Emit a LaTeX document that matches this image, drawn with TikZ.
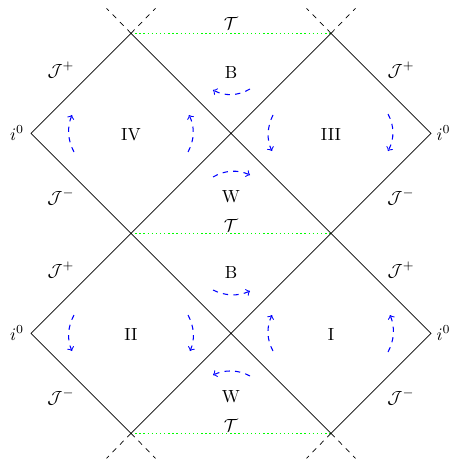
\documentclass[tikz,border=0pt]{standalone}
\usepackage{amsmath}
\begin{document}
\begin{tikzpicture}[x=2cm,y=-2cm,line width=0.4pt,
  horizon/.style={draw=black},
  extline/.style={dashed},
  infline/.style={color=green,line width=0.8pt,dash pattern=on 0.8pt off 1.55pt},
  flow/.style={draw=blue,line width=0.6pt,dashed,->},
  lbl/.style={inner sep=0pt}]
\useasboundingbox (0,0) rectangle (4.51,4.62);
% vertices
\coordinate (L1) at (0.31,1.333);
\coordinate (L2) at (0.31,3.333);
\coordinate (R1) at (4.31,1.333);
\coordinate (R2) at (4.31,3.333);
\coordinate (T1) at (1.31,0.333);
\coordinate (T2) at (3.31,0.333);
\coordinate (M1) at (1.31,2.333);
\coordinate (M2) at (3.31,2.333);
\coordinate (B1) at (1.31,4.333);
\coordinate (B2) at (3.31,4.333);
\coordinate (C1) at (2.31,1.333);
\coordinate (C2) at (2.31,3.333);
% singularities (dotted green)
\draw[infline] (T1) -- (T2);
\draw[infline] (M1) -- (M2);
\draw[infline] (B1) -- (B2);
% diamonds
\draw[horizon] (L1)--(T1)--(C1)--(M1)--cycle;
\draw[horizon] (C1)--(T2)--(R1)--(M2)--cycle;
\draw[horizon] (L2)--(M1)--(C2)--(B1)--cycle;
\draw[horizon] (C2)--(M2)--(R2)--(B2)--cycle;
% extensions
\draw[extline] (T1) -- ++(-0.245,-0.25);
\draw[extline] (T1) -- ++(0.245,-0.25);
\draw[extline] (T2) -- ++(-0.245,-0.25);
\draw[extline] (T2) -- ++(0.245,-0.25);
\draw[extline] (B1) -- ++(-0.245,0.25);
\draw[extline] (B1) -- ++(0.245,0.25);
\draw[extline] (B2) -- ++(-0.245,0.25);
\draw[extline] (B2) -- ++(0.245,0.25);
% labels
\node[lbl] (tA) at (2.31,0.23) {$\mathcal{T}$};
\node[lbl] (tB) at (2.31,2.25) {$\mathcal{T}$};
\node[lbl] (tC) at (2.31,4.25) {$\mathcal{T}$};
\node[lbl] (bA) at (2.31,0.72) {B};
\node[lbl] (bB) at (2.31,2.72) {B};
\node[lbl] (wA) at (2.31,1.965) {W};
\node[lbl] (wB) at (2.31,3.965) {W};
\node[lbl] (rIV) at (1.31,1.345) {IV};
\node[lbl] (rIII) at (3.31,1.345) {III};
\node[lbl] (rII) at (1.31,3.345) {II};
\node[lbl] (rI) at (3.31,3.345) {I};
\node[lbl] (jpa) at (0.61,0.70) {$\mathcal{J}^+$};
\node[lbl] (jma) at (0.61,1.97) {$\mathcal{J}^-$};
\node[lbl] (jpb) at (4.01,0.70) {$\mathcal{J}^+$};
\node[lbl] (jmb) at (4.01,1.97) {$\mathcal{J}^-$};
\node[lbl] (jpc) at (0.61,2.70) {$\mathcal{J}^+$};
\node[lbl] (jmc) at (0.61,3.97) {$\mathcal{J}^-$};
\node[lbl] (jpd) at (4.01,2.70) {$\mathcal{J}^+$};
\node[lbl] (jmd) at (4.01,3.97) {$\mathcal{J}^-$};
\node[lbl] (ia) at (0.17,1.33) {$i^0$};
\node[lbl] (ib) at (4.435,1.33) {$i^0$};
\node[lbl] (ic) at (0.17,3.33) {$i^0$};
\node[lbl] (id) at (4.435,3.33) {$i^0$};
% flow arrows
% IV
\draw[flow] (0.74,1.52) .. controls (0.675,1.40) and (0.67,1.27) .. (0.72,1.15);
\draw[flow] (1.88,1.52) .. controls (1.945,1.40) and (1.95,1.27) .. (1.89,1.15);
% III
\draw[flow] (2.73,1.15) .. controls (2.67,1.27) and (2.665,1.40) .. (2.72,1.51);
\draw[flow] (3.88,1.14) .. controls (3.945,1.26) and (3.945,1.39) .. (3.88,1.51);
% II
\draw[flow] (0.74,3.15) .. controls (0.675,3.27) and (0.67,3.40) .. (0.72,3.51);
\draw[flow] (1.88,3.15) .. controls (1.945,3.27) and (1.95,3.40) .. (1.90,3.51);
% I
\draw[flow] (2.73,3.51) .. controls (2.665,3.39) and (2.665,3.27) .. (2.72,3.15);
\draw[flow] (3.88,3.52) .. controls (3.945,3.40) and (3.95,3.27) .. (3.90,3.15);
% B / W
\draw[flow] (2.50,0.89) .. controls (2.38,0.96) and (2.25,0.965) .. (2.13,0.90);
\draw[flow] (2.13,1.77) .. controls (2.25,1.70) and (2.38,1.695) .. (2.50,1.75);
\draw[flow] (2.13,2.90) .. controls (2.25,2.96) and (2.38,2.965) .. (2.50,2.91);
\draw[flow] (2.50,3.76) .. controls (2.38,3.695) and (2.25,3.695) .. (2.13,3.75);
\end{tikzpicture}
\end{document}
